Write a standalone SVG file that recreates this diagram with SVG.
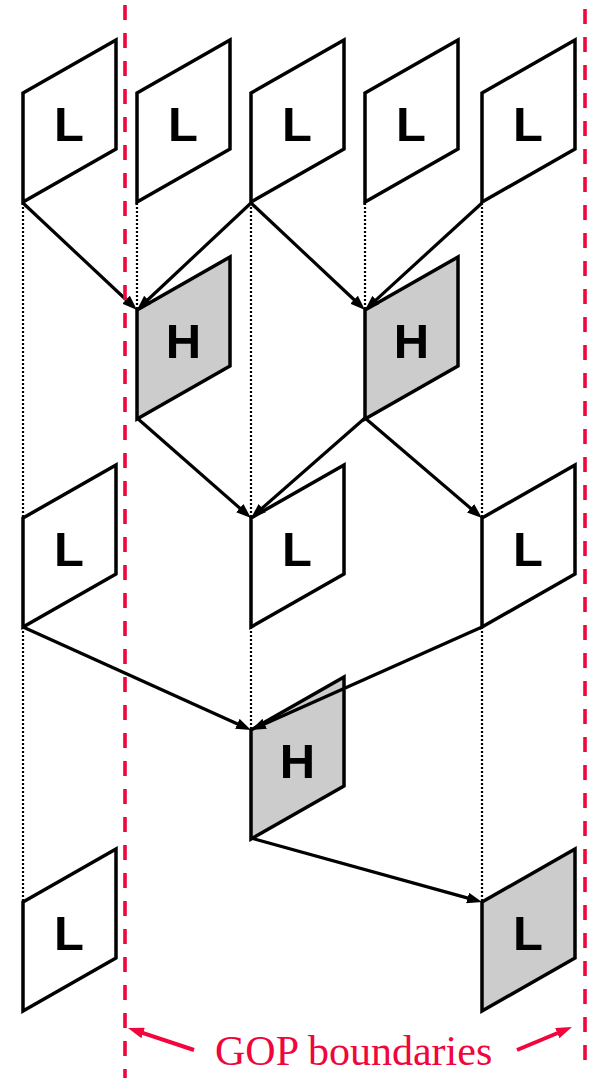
<svg xmlns="http://www.w3.org/2000/svg" width="593" height="1078" viewBox="0 0 593 1078">
  <style>
    .frame { stroke: #000; stroke-width: 3.5; stroke-linejoin: miter; fill: #fff; }
    .shaded .frame { fill: #cccccc; }
    .lbl { font-family: "Liberation Sans", Arial, sans-serif; font-weight: bold; font-size: 49px; text-anchor: middle; fill: #000; }
    .dep { stroke: #000; stroke-width: 3.2; fill: none; marker-end: url(#head); }
    .col { stroke: #000; stroke-width: 2.2; stroke-dasharray: 2 2; fill: none; }
    .gop { stroke: #f0053c; stroke-width: 3.6; stroke-dasharray: 15 13; fill: none; }
    .gop-ptr { stroke: #f0053c; stroke-width: 4; fill: none; marker-end: url(#redhead); }
    .gop-txt { font-family: "Liberation Serif", "Times New Roman", serif; font-size: 42px; fill: #f0053c; }
  </style>
  <defs>
    <marker id="head" markerUnits="userSpaceOnUse" markerWidth="15" markerHeight="11" refX="7" refY="5.5" orient="auto">
      <path d="M0,0 L15,5.5 L0,11 z" fill="#000"/>
    </marker>
    <marker id="redhead" markerUnits="userSpaceOnUse" markerWidth="16" markerHeight="11" refX="7" refY="5.5" orient="auto">
      <path d="M0,0 L16,5.5 L0,11 z" fill="#f0053c"/>
    </marker>
  </defs>

  <!-- temporal alignment guides (dotted) -->
  <g id="guides">
    <line class="col" x1="23" y1="203" x2="23" y2="518"/>
    <line class="col" x1="23" y1="627" x2="23" y2="902"/>
    <line class="col" x1="137" y1="203" x2="137" y2="310"/>
    <line class="col" x1="251" y1="203" x2="251" y2="518"/>
    <line class="col" x1="251" y1="627" x2="251" y2="730"/>
    <line class="col" x1="365" y1="203" x2="365" y2="310"/>
    <line class="col" x1="482" y1="203" x2="482" y2="518"/>
    <line class="col" x1="482" y1="627" x2="482" y2="902"/>
  </g>

  <!-- level 0 -->
  <g id="l0-0" transform="translate(23,93)"><polygon class="frame" points="0,0 93,-53 93,56 0,109"/><text class="lbl" x="46" y="48">L</text></g>
  <g id="l0-1" transform="translate(137,93)"><polygon class="frame" points="0,0 93,-53 93,56 0,109"/><text class="lbl" x="46" y="48">L</text></g>
  <g id="l0-2" transform="translate(251,93)"><polygon class="frame" points="0,0 93,-53 93,56 0,109"/><text class="lbl" x="46" y="48">L</text></g>
  <g id="l0-3" transform="translate(365,93)"><polygon class="frame" points="0,0 93,-53 93,56 0,109"/><text class="lbl" x="46" y="48">L</text></g>
  <g id="l0-4" transform="translate(482,93)"><polygon class="frame" points="0,0 93,-53 93,56 0,109"/><text class="lbl" x="46" y="48">L</text></g>

  <!-- level 1 high-pass -->
  <g id="h1-0" class="shaded" transform="translate(137,310)"><polygon class="frame" points="0,0 93,-53 93,56 0,109"/><text class="lbl" x="46.5" y="48">H</text></g>
  <g id="h1-1" class="shaded" transform="translate(365,310)"><polygon class="frame" points="0,0 93,-53 93,56 0,109"/><text class="lbl" x="46.5" y="48">H</text></g>

  <!-- level 1 low-pass -->
  <g id="l1-0" transform="translate(23,518)"><polygon class="frame" points="0,0 93,-53 93,56 0,109"/><text class="lbl" x="46" y="48">L</text></g>
  <g id="l1-1" transform="translate(251,518)"><polygon class="frame" points="0,0 93,-53 93,56 0,109"/><text class="lbl" x="46" y="48">L</text></g>
  <g id="l1-2" transform="translate(482,518)"><polygon class="frame" points="0,0 93,-53 93,56 0,109"/><text class="lbl" x="46" y="48">L</text></g>

  <!-- level 2 high-pass -->
  <g id="h2-0" class="shaded" transform="translate(251,730)"><polygon class="frame" points="0,0 93,-53 93,56 0,109"/><text class="lbl" x="46.5" y="48">H</text></g>

  <!-- level 2 low-pass -->
  <g id="l2-0" transform="translate(23,902)"><polygon class="frame" points="0,0 93,-53 93,56 0,109"/><text class="lbl" x="46" y="48">L</text></g>
  <g id="l2-1" class="shaded" transform="translate(482,902)"><polygon class="frame" points="0,0 93,-53 93,56 0,109"/><text class="lbl" x="46" y="48">L</text></g>

  <!-- prediction / update connectors -->
  <g id="connectors">
    <line class="dep" x1="23" y1="203" x2="131.2" y2="304.5"/>
    <line class="dep" x1="251" y1="203" x2="142.8" y2="304.5"/>
    <line class="dep" x1="251" y1="203" x2="359.2" y2="304.5"/>
    <line class="dep" x1="482" y1="203" x2="370.9" y2="304.6"/>
    <line class="dep" x1="137" y1="418" x2="245" y2="512.7"/>
    <line class="dep" x1="365" y1="418" x2="257" y2="512.7"/>
    <line class="dep" x1="365" y1="418" x2="475.9" y2="512.8"/>
    <line class="dep" x1="23" y1="627" x2="243.7" y2="726.7"/>
    <line class="dep" x1="482" y1="627" x2="258.3" y2="726.7"/>
    <line class="dep" x1="251" y1="838" x2="474.3" y2="899.9"/>
  </g>

  <!-- group-of-pictures boundaries -->
  <g id="gop">
    <line class="gop" x1="125" y1="5" x2="125" y2="1078"/>
    <line class="gop" x1="585" y1="9" x2="585" y2="1061"/>
    <line class="gop-ptr" x1="194" y1="1050" x2="136.5" y2="1030.8"/>
    <line class="gop-ptr" x1="517" y1="1050" x2="563.7" y2="1030.5"/>
    <text class="gop-txt" x="215" y="1065">GOP boundaries</text>
  </g>
</svg>
